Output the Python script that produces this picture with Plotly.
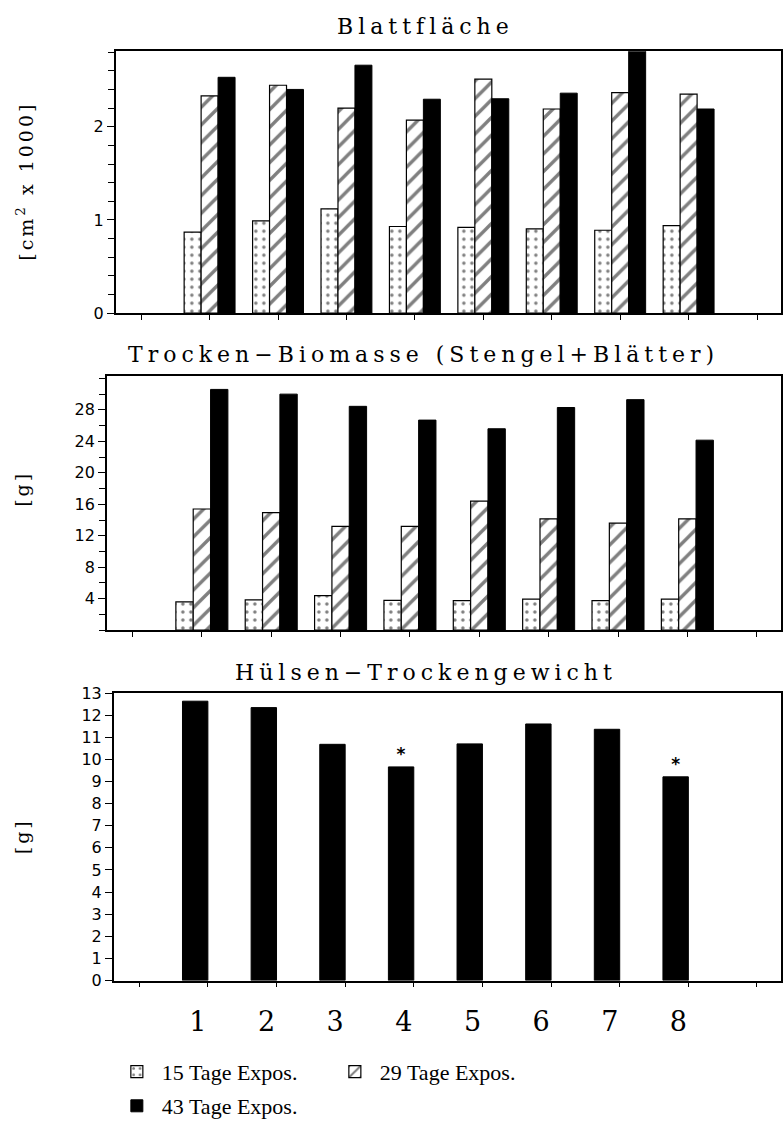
import plotly.graph_objects as go

# ---------------- data ----------------
categories = ["1", "2", "3", "4", "5", "6", "7", "8"]
series_names = ["15 Tage Expos.", "29 Tage Expos.", "43 Tage Expos."]

# Blattfläche [cm² x 1000]
leaf_15 = [0.87, 0.99, 1.12, 0.93, 0.92, 0.905, 0.89, 0.94]
leaf_29 = [2.33, 2.445, 2.20, 2.07, 2.51, 2.19, 2.365, 2.35]
leaf_43 = [2.53, 2.40, 2.66, 2.295, 2.30, 2.36, 2.85, 2.19]

# Trocken-Biomasse (Stengel+Blätter) [g]
bio_15 = [3.6, 3.85, 4.4, 3.8, 3.75, 3.95, 3.75, 3.95]
bio_29 = [15.4, 14.95, 13.2, 13.2, 16.4, 14.15, 13.6, 14.15]
bio_43 = [30.6, 30.0, 28.45, 26.7, 25.6, 28.3, 29.3, 24.15]

# Hülsen-Trockengewicht [g]
pod_43 = [12.63, 12.34, 10.68, 9.66, 10.70, 11.60, 11.36, 9.21]
pod_signif = ["", "", "", "*", "", "", "", "*"]

titles = ["Blattfläche", "Trocken−Biomasse (Stengel+Blätter)", "Hülsen−Trockengewicht"]
ytitles = ["[cm<sup>2</sup> x 1000]", "[g]", "[g]"]

# ---------------- layout helpers ----------------
W, H = 783, 1127
pos = [i + 1 for i in range(len(categories))]

def px_x(a, b):
    return [a / W, b / W]

def px_y(top, bottom):
    return [1 - bottom / H, 1 - top / H]

SERIF = "DejaVu Serif"
SANS = "DejaVu Sans"

dot_marker = dict(color="white", line=dict(color="black", width=1.2),
                  pattern=dict(shape=".", fgcolor="black", bgcolor="white",
                               size=8, solidity=0.15))
hatch_marker = dict(color="white", line=dict(color="black", width=1.2),
                    pattern=dict(shape="/", fgcolor="black", bgcolor="white",
                                 size=12.5, solidity=0.27))
black_marker = dict(color="black", line=dict(color="black", width=1))

bw = 0.248
fig = go.Figure()

# top panel
fig.add_trace(go.Bar(x=pos, y=leaf_15, width=bw, offset=-1.5 * bw, marker=dot_marker,
                     name=series_names[0], xaxis="x", yaxis="y", legend="legend"))
fig.add_trace(go.Bar(x=pos, y=leaf_29, width=bw, offset=-0.5 * bw, marker=hatch_marker,
                     name=series_names[1], xaxis="x", yaxis="y", legend="legend"))
fig.add_trace(go.Bar(x=pos, y=leaf_43, width=bw, offset=0.5 * bw, marker=black_marker,
                     name=series_names[2], xaxis="x", yaxis="y", legend="legend2"))

# middle panel
bw2 = 0.25
fig.add_trace(go.Bar(x=pos, y=bio_15, width=bw2, offset=-1.5 * bw2, marker=dot_marker,
                     showlegend=False, xaxis="x2", yaxis="y2"))
fig.add_trace(go.Bar(x=pos, y=bio_29, width=bw2, offset=-0.5 * bw2, marker=hatch_marker,
                     showlegend=False, xaxis="x2", yaxis="y2"))
fig.add_trace(go.Bar(x=pos, y=bio_43, width=bw2, offset=0.5 * bw2, marker=black_marker,
                     showlegend=False, xaxis="x2", yaxis="y2"))

# bottom panel
bw3 = 0.37
fig.add_trace(go.Bar(x=pos, y=pod_43, width=bw3, offset=-bw3, marker=black_marker,
                     text=pod_signif, textposition="outside", cliponaxis=False,
                     textfont=dict(family=SANS, size=17, color="black", weight="bold"),
                     showlegend=False, xaxis="x3", yaxis="y3"))

xrange = [-0.37, 9.35]
line = dict(showline=True, linecolor="black", linewidth=1.7, mirror=True)

def xax(domain, anchor, labels=False):
    d = dict(domain=domain, anchor=anchor, range=xrange, showgrid=False, zeroline=False,
             **line)
    if labels:
        d.update(tickmode="array", tickvals=[p - bw3 / 2 + 0.04 for p in pos],
                 ticktext=categories, ticks="", ticklabelstandoff=16,
                 tickfont=dict(family=SERIF, size=27, color="black"),
                 minor=dict(tickmode="linear", tick0=0, dtick=1, ticks="outside",
                            ticklen=5, tickwidth=1.3, tickcolor="black"))
    else:
        d.update(tickmode="linear", tick0=0, dtick=1, ticks="outside", ticklen=5,
                 tickwidth=1.3, tickcolor="black", showticklabels=False)
    return d

def yax(domain, anchor, rng, tickvals, minor_dtick):
    return dict(domain=domain, anchor=anchor, range=rng, showgrid=False, zeroline=False,
                tickmode="array", tickvals=tickvals, ticks="outside", ticklen=7,
                tickwidth=1.3, tickcolor="black",
                tickfont=dict(family=SANS, size=16, color="black"),
                minor=dict(tickmode="linear", tick0=0, dtick=minor_dtick, ticks="outside",
                           ticklen=6, tickwidth=1.1, tickcolor="black"),
                **line)

fig.update_layout(
    width=W, height=H,
    margin=dict(l=0, r=0, t=0, b=0),
    paper_bgcolor="white", plot_bgcolor="white",
    xaxis=xax(px_x(116, 782), "y"),
    yaxis=yax(px_y(43, 310), "x", [0, 2.81], [0, 1, 2], 0.2),
    xaxis2=xax(px_x(107, 782), "y2"),
    yaxis2=yax(px_y(374, 633), "x2", [0, 32.3], [4, 8, 12, 16, 20, 24, 28], 2),
    xaxis3=xax(px_x(114, 782), "y3", labels=True),
    yaxis3=yax(px_y(697, 990), "x3", [0, 13], list(range(0, 14)), 1),
    legend=dict(orientation="h", x=112 / W, y=1 - 1083 / H, xanchor="left",
                yanchor="middle", font=dict(family="Liberation Serif", size=22, color="black"),
                itemwidth=40, entrywidth=163, bgcolor="rgba(0,0,0,0)"),
    legend2=dict(orientation="h", x=112 / W, y=1 - 1118 / H, xanchor="left",
                 yanchor="middle", font=dict(family="Liberation Serif", size=22, color="black"),
                 itemwidth=40, bgcolor="rgba(0,0,0,0)"),
)

title_y = [18, 352, 676]
title_x = [426, 424, 427]
for t, ty, tx in zip(titles, title_y, title_x):
    fig.add_annotation(text='<span style="letter-spacing:5px">' + t + '</span>',
                       x=tx / W, y=1 - ty / H, xref="paper", yref="paper",
                       showarrow=False, xanchor="center", yanchor="middle",
                       font=dict(family=SERIF, size=22, color="black"))

ytitle_y = [175, 489, 843]
ytitle_x = [25, 22, 22]
for t, ty, tx in zip(ytitles, ytitle_y, ytitle_x):
    fig.add_annotation(text='<span style="letter-spacing:3px">' + t + '</span>',
                       x=tx / W, y=1 - ty / H, xref="paper", yref="paper",
                       showarrow=False, textangle=-90, xanchor="center", yanchor="middle",
                       font=dict(family=SERIF, size=19, color="black"))

fig.write_html("out.html", config={"displayModeBar": False},
               post_script="document.body.style.margin='0';document.body.style.overflow='hidden';")
